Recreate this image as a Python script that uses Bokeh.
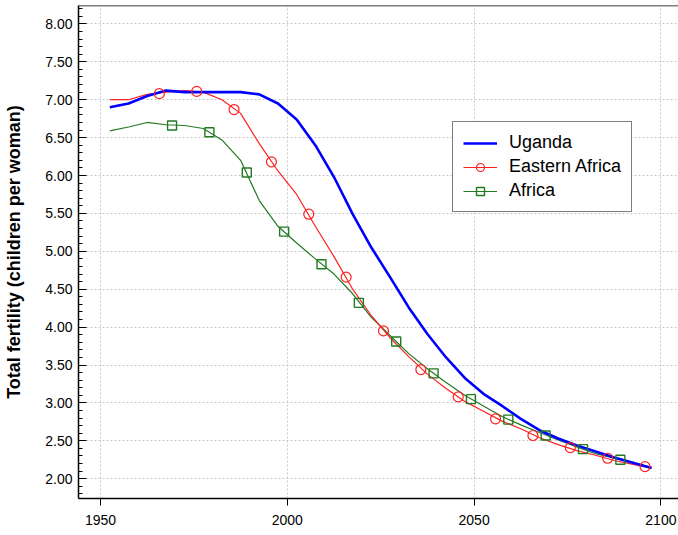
from bokeh.plotting import figure
from bokeh.models import (Range1d, SingleIntervalTicker, FixedTicker, PrintfTickFormatter,
                          Legend, LegendItem, Span)
from bokeh.embed import file_html
from bokeh.resources import INLINE

# ---- data (total fertility, children per woman; 5-year period mid-points) ----
years = [1952.5, 1957.5, 1962.5, 1967.5, 1972.5, 1977.5, 1982.5, 1987.5, 1992.5, 1997.5,
         2002.5, 2007.5, 2012.5, 2017.5, 2022.5, 2027.5, 2032.5, 2037.5, 2042.5, 2047.5,
         2052.5, 2057.5, 2062.5, 2067.5, 2072.5, 2077.5, 2082.5, 2087.5, 2092.5, 2097.5]
uganda = [6.90, 6.95, 7.05, 7.12, 7.10, 7.10, 7.10, 7.10, 7.07, 6.95,
          6.74, 6.40, 5.98, 5.49, 5.05, 4.66, 4.26, 3.91, 3.60, 3.33,
          3.12, 2.96, 2.79, 2.64, 2.53, 2.44, 2.36, 2.28, 2.21, 2.14]
eastern_africa = [7.00, 7.00, 7.07, 7.10, 7.12, 7.10, 7.00, 6.82, 6.42, 6.06,
                  5.75, 5.33, 4.93, 4.50, 4.15, 3.86, 3.61, 3.38, 3.19, 3.02,
                  2.89, 2.76, 2.66, 2.54, 2.45, 2.37, 2.31, 2.24, 2.19, 2.14]
africa = [6.59, 6.64, 6.70, 6.67, 6.66, 6.62, 6.47, 6.20, 5.67, 5.33,
          5.11, 4.90, 4.70, 4.44, 4.13, 3.89, 3.65, 3.45, 3.27, 3.10,
          2.96, 2.82, 2.71, 2.61, 2.51, 2.42, 2.33, 2.27, 2.21, 2.15]

# marker positions (placed along the lines every 10 years)
ea_marker_years = [1965.75, 1975.75, 1985.75, 1995.75, 2005.75, 2015.75, 2025.75,
                   2035.75, 2045.75, 2055.75, 2065.75, 2075.75, 2085.75, 2095.75]
ea_marker_vals = [7.08, 7.11, 6.87, 6.18, 5.49, 4.66, 3.95, 3.44, 3.08, 2.79, 2.57, 2.41, 2.27, 2.16]
af_marker_years = [1969.15, 1979.15, 1989.15, 1999.15, 2009.15, 2019.15, 2029.15,
                   2039.15, 2049.15, 2059.15, 2069.15, 2079.15, 2089.15]
af_marker_vals = [6.66, 6.57, 6.04, 5.26, 4.83, 4.32, 3.81, 3.39, 3.05, 2.78, 2.57, 2.39, 2.25]

x_ticks = [1950, 2000, 2050, 2100]
y_label = "Total fertility (children per woman)"
series_names = ["Uganda", "Eastern Africa", "Africa"]

FONT = "Liberation Sans"
BLUE = "#0000ff"
RED = "#ff2020"
GREEN = "#217a21"

Y_TOP = 8.243
p = figure(width=678, height=535, output_backend="svg", toolbar_location=None,
           x_range=Range1d(1944.11, 2104.71), y_range=Range1d(1.739, Y_TOP),
           min_border_left=78, min_border_right=0, min_border_top=5, min_border_bottom=37)
p.outline_line_color = None
p.background_fill_color = "white"
p.border_fill_color = "white"

# top frame line
p.add_layout(Span(location=Y_TOP, dimension="width", line_color="black", line_width=1.5))

# axes
xa = p.xaxis[0]
xa.ticker = FixedTicker(ticks=x_ticks)
xa.major_tick_in = 0
xa.major_tick_out = 7
xa.minor_tick_in = 0
xa.minor_tick_out = 0
xa.axis_line_color = "black"
xa.axis_line_width = 1.5
xa.major_tick_line_color = "black"
xa.major_label_text_font = FONT
xa.major_label_text_font_size = "14px"
xa.major_label_text_color = "black"
xa.major_label_standoff = 9

ya = p.yaxis[0]
ya.ticker = SingleIntervalTicker(interval=0.5, num_minor_ticks=5)
ya.formatter = PrintfTickFormatter(format="%.2f")
ya.major_tick_in = 8
ya.major_tick_out = 0
ya.minor_tick_in = 4
ya.minor_tick_out = 0
ya.axis_line_color = "black"
ya.axis_line_width = 1.5
ya.major_tick_line_color = "black"
ya.minor_tick_line_color = "black"
ya.major_label_text_font = FONT
ya.major_label_text_font_size = "14px"
ya.major_label_text_color = "black"
ya.major_label_standoff = 6
ya.axis_label = y_label
ya.axis_label_text_font = FONT
ya.axis_label_text_font_style = "bold"
ya.axis_label_text_font_size = "18px"
ya.axis_label_text_color = "black"
ya.axis_label_standoff = 18

# grid
for g in (p.xgrid[0], p.ygrid[0]):
    g.grid_line_color = "#c8c8c8"
    g.grid_line_dash = "2 2"
    g.grid_line_width = 1
p.ygrid[0].ticker = SingleIntervalTicker(interval=0.5)

# series
l_af = p.line(years, africa, line_color=GREEN, line_width=1.2)
l_ea = p.line(years, eastern_africa, line_color=RED, line_width=1.2)
l_ug = p.line(years, uganda, line_color=BLUE, line_width=2.6)
m_ea = p.scatter(ea_marker_years, ea_marker_vals, marker="circle", size=10,
                 line_color=RED, fill_color=None, line_width=1.2)
m_af = p.scatter(af_marker_years, af_marker_vals, marker="square", size=9,
                 line_color=GREEN, fill_color=None, line_width=1.4)

legend = Legend(items=[LegendItem(label=series_names[0], renderers=[l_ug]),
                       LegendItem(label=series_names[1], renderers=[l_ea, m_ea]),
                       LegendItem(label=series_names[2], renderers=[l_af, m_af])],
                location=(374, 286))
legend.margin = 0
legend.padding = 10
legend.spacing = 3
legend.glyph_width = 34
legend.glyph_height = 20
legend.label_height = 20
legend.label_standoff = 12
legend.label_text_font = FONT
legend.label_text_font_size = "18px"
legend.label_text_color = "black"
legend.border_line_color = "black"
legend.border_line_width = 1.2
legend.background_fill_color = "white"
legend.background_fill_alpha = 1.0
p.add_layout(legend)

open("out.html", "w").write(file_html(p, INLINE))
